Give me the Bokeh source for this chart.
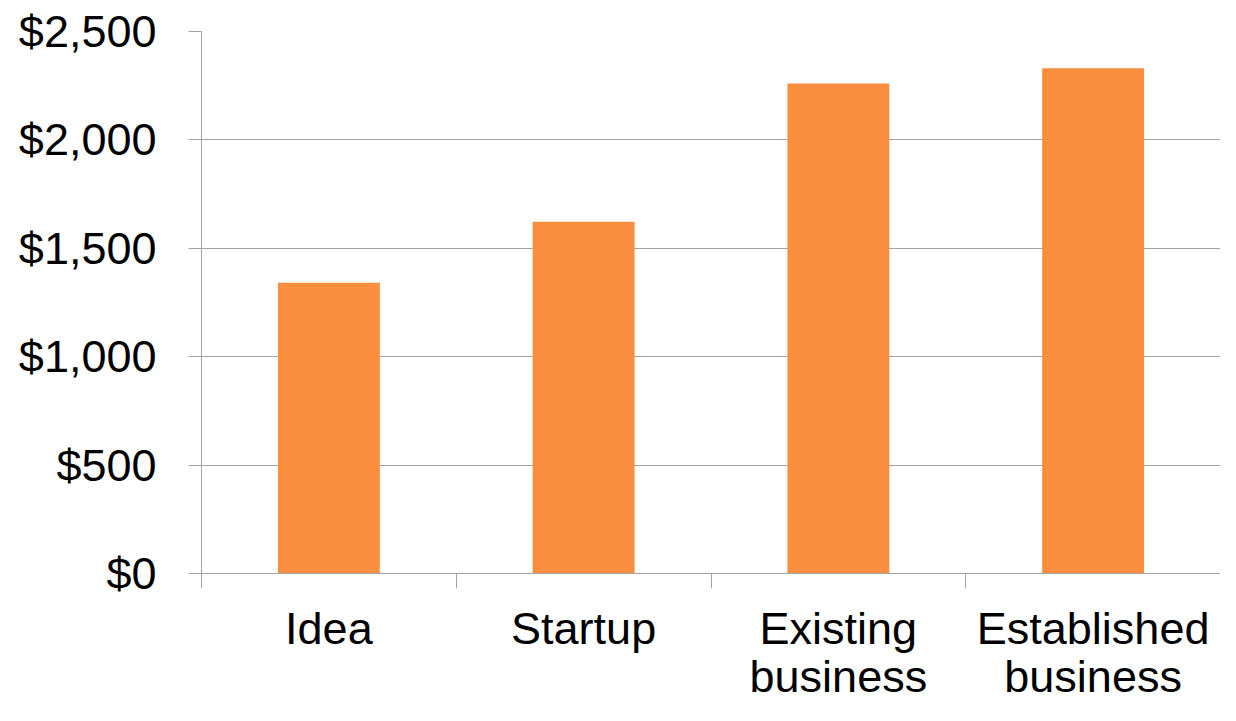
from bokeh.plotting import figure
from bokeh.models import Range1d, FixedTicker, NumeralTickFormatter, LinearAxis, ColumnDataSource, Grid
from bokeh.embed import file_html
from bokeh.resources import INLINE

categories = ["Idea", "Startup", "Existing\nbusiness", "Established\nbusiness"]
values = [1341, 1622, 2260, 2331]
y_ticks = [0, 500, 1000, 1500, 2000, 2500]

positions = [i + 0.5 for i in range(len(categories))]
boundaries = list(range(len(categories) + 1))

src = ColumnDataSource(dict(x=positions, top=values, name=categories))

GRAY = "#A3A3A3"
FONT = "Liberation Sans"

p = figure(width=1220, height=705, output_backend="svg", toolbar_location=None,
           x_range=Range1d(0, len(categories)), y_range=Range1d(0, 2500),
           x_axis_type=None, y_axis_type=None,
           min_border_left=201, min_border_right=0, min_border_top=31, min_border_bottom=132)
p.outline_line_color = None
p.background_fill_color = "white"
p.border_fill_color = "white"

p.vbar(x="x", top="top", width=0.4, source=src, fill_color="#F98E3F", line_color=None)

yaxis = LinearAxis(ticker=FixedTicker(ticks=y_ticks),
                   formatter=NumeralTickFormatter(format="$0,0"))
yaxis.axis_line_color = GRAY
yaxis.major_tick_line_color = GRAY
yaxis.major_tick_out = 13
yaxis.major_tick_in = 0
yaxis.minor_tick_line_color = None
yaxis.major_label_standoff = 32
yaxis.major_label_text_font = FONT
yaxis.major_label_text_font_size = "45px"
yaxis.major_label_text_color = "black"
p.add_layout(yaxis, "left")

xaxis = LinearAxis(ticker=FixedTicker(ticks=positions, minor_ticks=boundaries))
xaxis.major_label_overrides = {pos: name for pos, name in zip(positions, categories)}
xaxis.axis_line_color = GRAY
xaxis.major_tick_line_color = None
xaxis.major_tick_out = 0
xaxis.major_tick_in = 0
xaxis.minor_tick_line_color = GRAY
xaxis.minor_tick_out = 0
xaxis.minor_tick_in = -15
xaxis.major_label_standoff = 29
xaxis.major_label_text_font = FONT
xaxis.major_label_text_font_size = "45px"
xaxis.major_label_text_line_height = 0.96
xaxis.major_label_text_color = "black"
p.add_layout(xaxis, "below")

p.ygrid.visible = False
p.xgrid.visible = False
p.add_layout(Grid(dimension=1, ticker=yaxis.ticker, grid_line_color=GRAY, grid_line_width=1))

open("out.html", "w").write(file_html(p, INLINE))
